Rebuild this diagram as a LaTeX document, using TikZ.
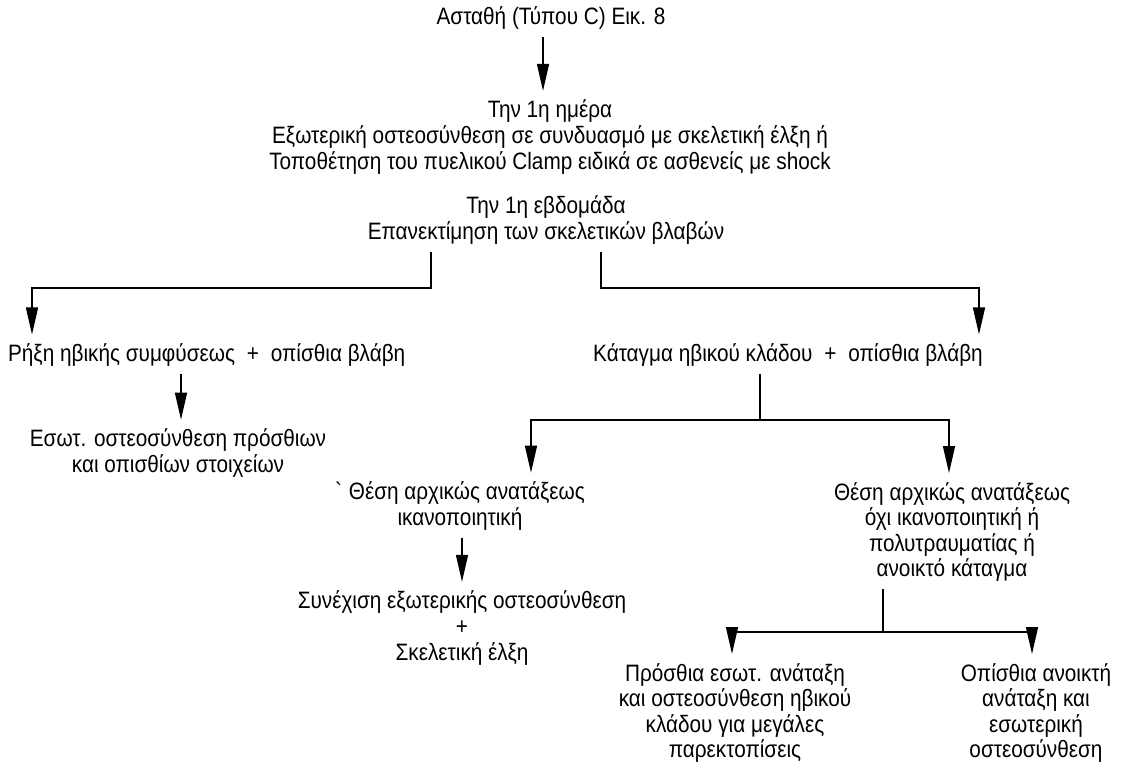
\documentclass[tikz,border=0pt]{standalone}
\usepackage{fontspec}
\setmainfont{Liberation Sans}[FakeStretch=0.875]
\usetikzlibrary{arrows.meta,positioning}
\tikzset{
  txt/.style={font=\fontsize{13.5}{14.6}\selectfont, align=center, inner sep=1pt},
  ln/.style={line width=0.8pt},
  arr/.style={line width=0.8pt, -{Triangle[length=5.4mm,width=2.4mm]}, shorten >=4pt}
}
\begin{document}
\begin{tikzpicture}[x=0.02cm, y=-0.02cm]
    \useasboundingbox (0,0) rectangle (1130,769);

    % Top
    \node[txt] (title) at (551,18) {Ασταθή (Τύπου C) Εικ. 8};
    \node[txt] (day) at (550,137) {Την 1η ημέρα\\Εξωτερική οστεοσύνθεση σε συνδυασμό με σκελετική έλξη ή\\Τοποθέτηση του πυελικού Clamp ειδικά σε ασθενείς με shock};
    \node[txt] (week) at (546,220) {Την 1η εβδομάδα\\Επανεκτίμηση των σκελετικών βλαβών};
    \draw[arr, shorten <=3pt] (title.south -| 543,0) -- (day.north -| 543,0);

    % First split
    \node[txt, anchor=west] (rupt) at (6,355) {Ρήξη ηβικής συμφύσεως\enspace+\enspace οπίσθια βλάβη};
    \node[txt] (frac) at (788,355) {Κάταγμα ηβικού κλάδου\enspace+\enspace οπίσθια βλάβη};
    \coordinate (wl) at (431,288);
    \coordinate (wr) at (601,288);
    \coordinate (rl) at (32,288);
    \coordinate (fr) at (979,288);
    \draw[arr, shorten <=3pt] (week.south -| wl) -- (wl) -- (rl) -- (rupt.north -| rl);
    \draw[arr, shorten <=3pt] (week.south -| wr) -- (wr) -- (fr) -- (frac.north -| fr);

    % Left branch
    \node[txt] (intfix) at (178,453) {Εσωτ. οστεοσύνθεση πρόσθιων\\και οπισθίων στοιχείων};
    \draw[arr, shorten <=3pt] (rupt.south -| 181,0) -- (intfix.north -| 181,0);

    % Right branch
    \node[txt] (sat) at (460,506) {\textasciigrave{} Θέση αρχικώς ανατάξεως\\ικανοποιητική};
    \node[txt] (unsat) at (952,532) {Θέση αρχικώς ανατάξεως\\όχι ικανοποιητική ή\\πολυτραυματίας ή\\ανοικτό κάταγμα};
    \coordinate (fj) at (760,420);
    \coordinate (sl) at (531,420);
    \coordinate (ur) at (949,420);
    \draw[ln, shorten <=3pt] (frac.south -| fj) -- (fj);
    \draw[arr] (fj) -- (sl) -- (sat.north -| sl);
    \draw[arr] (fj) -- (ur) -- (unsat.north -| ur);

    % Satisfactory reduction
    \node[txt] (cont) at (462,628) {Συνέχιση εξωτερικής οστεοσύνθεση\\+\\Σκελετική έλξη};
    \draw[arr, shorten <=3pt] (sat.south -| 462,0) -- (cont.north -| 462,0);

    % Unsatisfactory reduction
    \node[txt] (ant) at (735,713) {Πρόσθια εσωτ. ανάταξη\\και οστεοσύνθεση ηβικού\\κλάδου για μεγάλες\\παρεκτοπίσεις};
    \node[txt] (post) at (1036,713) {Οπίσθια ανοικτή\\ανάταξη και\\εσωτερική\\οστεοσύνθεση};
    \coordinate (uj) at (883,632);
    \coordinate (al) at (732,632);
    \coordinate (pr) at (1032,632);
    \draw[ln, shorten <=3pt] (unsat.south -| uj) -- (uj);
    \draw[arr] (uj) -- (al) -- (ant.north -| al);
    \draw[arr] (uj) -- (pr) -- (post.north -| pr);
\end{tikzpicture}
\end{document}
